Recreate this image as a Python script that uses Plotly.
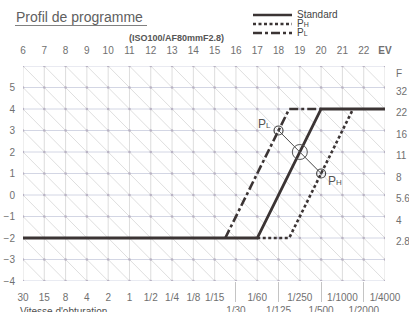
import plotly.graph_objects as go

# ---------------- data ----------------
ev_ticks = list(range(6, 24))
ev_labels = [str(v) for v in range(6, 23)] + ["<b>EV</b>"]
shutter_labels = ["30", "15", "8", "4", "2", "1", "1/2", "1/4", "1/8", "1/15",
                  "1/30", "1/60", "1/125", "1/250", "1/500", "1/1000", "1/2000", "1/4000"]
shutter_row2 = ["1/30", "1/125", "1/500", "1/2000"]
left_ticks = list(range(-4, 6))
f_levels = [5, 4, 3, 2, 1, 0, -1, -2]
f_numbers = ["32", "22", "16", "11", "8", "5.6", "4", "2.8"]

standard_x = [6, 17, 20, 23]
standard_y = [-2, -2, 4, 4]
ph_x = [17, 18.5, 21.5]
ph_y = [-2, -2, 4]
pl_x = [15.5, 18.5, 20]
pl_y = [-2, 4, 4]
shift_x = [18, 19, 20]
shift_y = [3, 2, 1]

x_min, x_max = 6, 23
y_min, y_max = -4, 6

# ---------------- geometry helpers (pixels -> paper) ----------------
W_PX, H_PX = 409, 312
ML, MR, MT, MB = 23, 24, 66, 31
PW = W_PX - ML - MR
PH = H_PX - MT - MB


def px(x):
    return (x - ML) / PW


def py(y):
    return (H_PX - MB - y) / PH


LINE_C = "#3b3434"
FONT = "Liberation Sans, Arial, sans-serif"
TXT = "#707070"


def p_label(letter, small):
    return "P<span style='font-size:%dpx'>%s</span>" % (small, letter)


fig = go.Figure()

# grid: horizontal, vertical, diagonal
hx, hy = [], []
for yv in range(y_min, y_max + 1):
    hx += [x_min, x_max, None]
    hy += [yv, yv, None]
fig.add_trace(go.Scatter(x=hx, y=hy, mode="lines", line=dict(color="#d3d6e4", width=1),
                         hoverinfo="skip", showlegend=False))
vx, vy = [], []
for xv in range(x_min, x_max + 1):
    vx += [xv, xv, None]
    vy += [y_min, y_max, None]
fig.add_trace(go.Scatter(x=vx, y=vy, mode="lines", line=dict(color="#d4d4d4", width=0.8),
                         hoverinfo="skip", showlegend=False))
dx, dy = [], []
for c in range(x_min + y_min, x_max + y_max + 1):
    xa = max(x_min, c - y_max)
    xb = min(x_max, c - y_min)
    if xb > xa:
        dx += [xa, xb, None]
        dy += [c - xa, c - xb, None]
fig.add_trace(go.Scatter(x=dx, y=dy, mode="lines", line=dict(color="#d6d6d6", width=0.8),
                         hoverinfo="skip", showlegend=False))
nx, ny = [], []
for xv in range(x_min, x_max + 1):
    for yv in range(y_min, y_max + 1):
        nx.append(xv)
        ny.append(yv)
fig.add_trace(go.Scatter(x=nx, y=ny, mode="markers", marker=dict(size=2.5, color="#b9b3c4"),
                         hoverinfo="skip", showlegend=False))

# program lines
fig.add_trace(go.Scatter(x=pl_x, y=pl_y, mode="lines",
                         line=dict(color=LINE_C, width=2.6, dash="9px,3px,3px,3px"),
                         hoverinfo="skip", showlegend=False))
fig.add_trace(go.Scatter(x=ph_x, y=ph_y, mode="lines",
                         line=dict(color=LINE_C, width=2.6, dash="3px,2.5px"),
                         hoverinfo="skip", showlegend=False))
fig.add_trace(go.Scatter(x=standard_x, y=standard_y, mode="lines",
                         line=dict(color=LINE_C, width=2.8),
                         hoverinfo="skip", showlegend=False))

# shift line and circles
fig.add_trace(go.Scatter(x=shift_x, y=shift_y, mode="lines", line=dict(color="#555", width=1),
                         hoverinfo="skip", showlegend=False))
fig.add_trace(go.Scatter(x=[shift_x[1]], y=[shift_y[1]], mode="markers",
                         marker=dict(symbol="circle-open", size=15, color="#555", line=dict(width=1)),
                         hoverinfo="skip", showlegend=False))
fig.add_trace(go.Scatter(x=[shift_x[0], shift_x[2]], y=[shift_y[0], shift_y[2]], mode="markers",
                         marker=dict(symbol="circle-open-dot", size=9, color="#444", line=dict(width=1.2)),
                         hoverinfo="skip", showlegend=False))

# point labels anchored at the data points
fig.add_annotation(text=p_label("L", 8), x=shift_x[0], y=shift_y[0], xref="x", yref="y",
                   xanchor="right", yanchor="middle", xshift=-6, yshift=7, showarrow=False,
                   font=dict(family=FONT, size=12, color="#555"))
fig.add_annotation(text=p_label("H", 8), x=shift_x[2], y=shift_y[2], xref="x", yref="y",
                   xanchor="left", yanchor="middle", xshift=5, yshift=-7, showarrow=False,
                   font=dict(family=FONT, size=12, color="#555"))

# dummy traces to activate the extra axes
for xa_, ya_ in [("x2", "y"), ("x3", "y"), ("x", "y2")]:
    fig.add_trace(go.Scatter(x=[x_min, x_max], y=[y_min, y_max], mode="none",
                             xaxis=xa_, yaxis=ya_, hoverinfo="skip", showlegend=False))

row1_vals = [v for v, t in zip(ev_ticks, shutter_labels) if t not in shutter_row2]
row1_text = [t for t in shutter_labels if t not in shutter_row2]
row2_vals = [v for v, t in zip(ev_ticks, shutter_labels) if t in shutter_row2]
row2_text = [t for t in shutter_labels if t in shutter_row2]

tickfont = dict(family=FONT, size=10, color=TXT)
common_x = dict(range=[x_min, x_max], showgrid=False, zeroline=False, showline=False,
                tickmode="array", fixedrange=True, automargin=False)

fig.update_layout(
    width=W_PX, height=H_PX,
    margin=dict(l=ML, r=MR, t=MT, b=MB, pad=0, autoexpand=False),
    paper_bgcolor="white", plot_bgcolor="white",
    showlegend=False,
    xaxis=dict(**common_x, tickvals=row1_vals, ticktext=row1_text, ticks="",
               ticklabelstandoff=9, tickfont=tickfont),
    xaxis2=dict(**common_x, overlaying="x", side="top", anchor="y",
                tickvals=ev_ticks, ticktext=ev_labels, ticks="",
                ticklabelstandoff=9, tickfont=tickfont),
    xaxis3=dict(**common_x, overlaying="x", side="bottom", anchor="y",
                tickvals=row2_vals, ticktext=row2_text, ticks="outside",
                ticklen=20, tickwidth=1, tickcolor="#c4c4c4",
                ticklabelstandoff=0, tickfont=tickfont),
    yaxis=dict(range=[y_min, y_max], showgrid=False, zeroline=False, showline=False,
               tickmode="array", tickvals=left_ticks,
               ticktext=[str(v).replace("-", "\u2212") for v in left_ticks],
               ticks="", ticklabelstandoff=7, tickfont=tickfont, fixedrange=True,
               automargin=False),
    yaxis2=dict(range=[y_min, y_max], overlaying="y", side="right", anchor="x",
                showgrid=False, zeroline=False, showline=False, tickmode="array",
                tickvals=[5.63] + [v - 0.17 for v in f_levels],
                ticktext=["F"] + f_numbers, ticks="", ticklabelstandoff=10,
                tickfont=tickfont, fixedrange=True, automargin=False),
)

# title, subtitle, axis title
fig.add_annotation(text="Profil de programme", xref="paper", yref="paper",
                   x=px(14), y=py(17), xanchor="left", yanchor="middle", showarrow=False,
                   font=dict(family=FONT, size=14, color="#606060"))
fig.add_shape(type="line", xref="paper", yref="paper", x0=px(15), x1=px(147), y0=py(25.5), y1=py(25.5),
              line=dict(color="#808080", width=1))
fig.add_annotation(text="<b>(ISO100/AF80mmF2.8)</b>", xref="paper", yref="paper",
                   x=px(176.5), y=py(38), xanchor="center", yanchor="middle", showarrow=False,
                   font=dict(family=FONT, size=9, color="#555"))
fig.add_annotation(text="Vitesse d'obturation", xref="paper", yref="paper",
                   x=px(18), y=py(304), xanchor="left", yanchor="top", showarrow=False,
                   font=dict(family=FONT, size=10, color="#505050"))

# legend (drawn manually for tight spacing)
legend_items = [("Standard", None, 15), (p_label("H", 7), "3px,2.5px", 24),
                (p_label("L", 7), "9px,3px,3px,3px", 33)]
for name, dash, ypix in legend_items:
    ln = dict(color=LINE_C, width=2.4)
    if dash:
        ln["dash"] = dash
    fig.add_shape(type="line", xref="paper", yref="paper", x0=px(253), x1=px(292),
                  y0=py(ypix), y1=py(ypix), line=ln)
    fig.add_annotation(text=name, xref="paper", yref="paper", x=px(295), y=py(ypix),
                       xanchor="left", yanchor="middle", showarrow=False,
                       font=dict(family=FONT, size=10, color="#444"))

fig.write_html("out.html", config={"displayModeBar": False},
               post_script="document.body.style.margin='0';")
